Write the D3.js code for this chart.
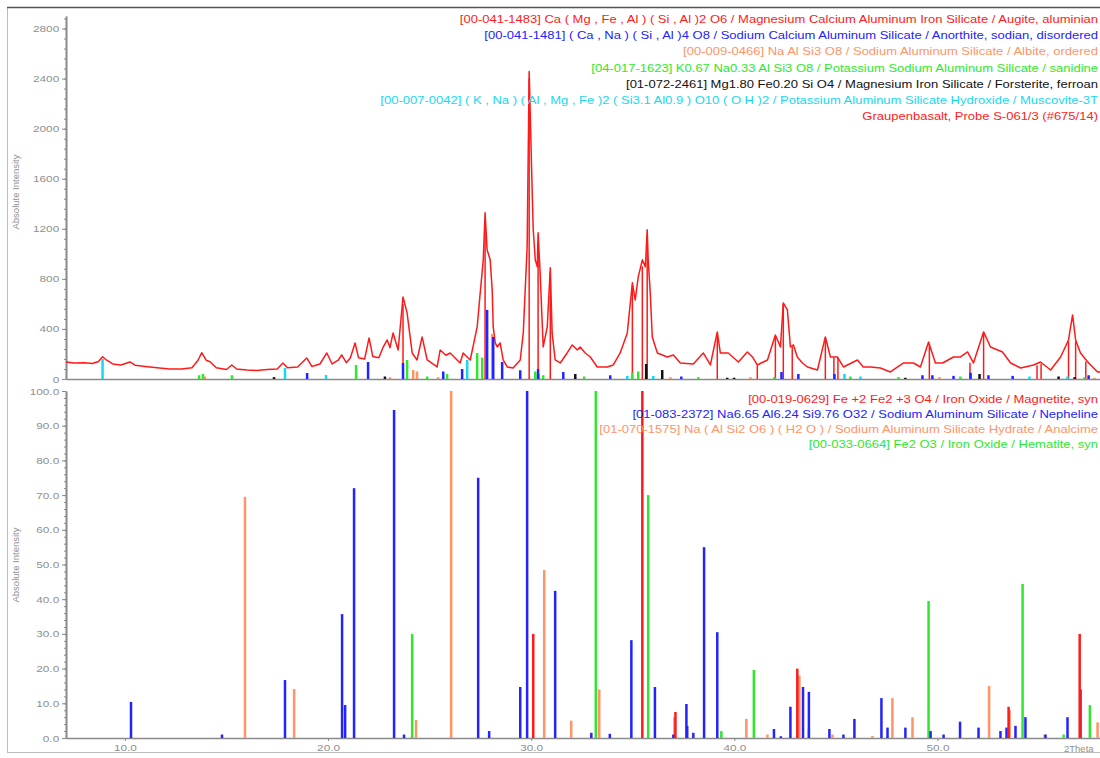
<!DOCTYPE html>
<html>
<head>
<meta charset="utf-8">
<script src="https://cdn.jsdelivr.net/npm/d3@7"></script>
<style>
  body { margin: 0; background: #fff; }
</style>
</head>
<body>
<div id="chart"></div>
<script>
// measured pattern (2Theta, counts)
const scanTheta = [7.10, 7.50, 8.00, 8.40, 8.70, 8.90, 9.10, 9.40, 9.80, 10.25, 10.50, 11.00, 11.70, 12.20, 12.80, 13.30, 13.60, 13.78, 14.00, 14.19, 14.50, 15.00, 15.26, 15.50, 16.00, 16.50, 17.00, 17.50, 17.78, 18.00, 18.50, 18.95, 19.20, 19.60, 19.94, 20.20, 20.50, 20.67, 20.90, 21.10, 21.33, 21.50, 21.80, 22.02, 22.20, 22.50, 22.70, 22.91, 23.05, 23.20, 23.45, 23.69, 23.89, 24.14, 24.38, 24.63, 24.88, 25.37, 25.52, 25.80, 26.01, 26.50, 26.65, 27.00, 27.34, 27.49, 27.64, 27.73, 27.83, 27.98, 28.08, 28.13, 28.23, 28.33, 28.47, 28.62, 28.82, 29.11, 29.46, 29.61, 29.80, 29.90, 30.05, 30.10, 30.20, 30.30, 30.34, 30.44, 30.59, 30.79, 30.94, 31.03, 31.18, 31.43, 31.77, 32.02, 32.27, 32.41, 32.66, 32.91, 33.25, 33.74, 34.04, 34.38, 34.73, 34.98, 35.12, 35.27, 35.47, 35.62, 35.71, 35.76, 35.86, 35.96, 36.21, 36.70, 37.00, 37.34, 37.98, 38.47, 38.82, 39.16, 39.31, 39.70, 40.20, 40.64, 40.89, 41.13, 41.63, 42.02, 42.27, 42.41, 42.61, 42.76, 42.91, 43.10, 43.35, 43.60, 44.09, 44.48, 44.73, 45.07, 45.37, 46.06, 46.35, 46.70, 47.19, 47.68, 48.33, 48.82, 49.16, 49.56, 49.90, 50.25, 50.79, 51.13, 51.48, 51.77, 52.27, 52.61, 53.20, 53.60, 54.09, 54.73, 55.07, 55.57, 56.06, 56.45, 56.65, 56.80, 57.04, 57.44, 57.88, 58.00];
const scanCounts = [136, 128, 130, 124, 140, 178, 150, 120, 112, 136, 110, 100, 88, 80, 80, 90, 150, 210, 150, 138, 90, 76, 112, 80, 72, 68, 76, 80, 128, 90, 96, 168, 100, 120, 208, 120, 150, 192, 130, 170, 288, 170, 160, 328, 180, 170, 250, 312, 250, 368, 232, 656, 528, 208, 152, 336, 152, 96, 232, 190, 208, 128, 208, 152, 416, 688, 952, 1328, 1032, 952, 712, 416, 288, 256, 288, 152, 96, 88, 152, 368, 1056, 2456, 1488, 1192, 952, 896, 1168, 848, 256, 416, 888, 368, 152, 128, 208, 272, 232, 256, 208, 176, 96, 96, 112, 208, 368, 768, 632, 816, 952, 896, 1192, 952, 688, 336, 208, 176, 192, 128, 120, 208, 112, 376, 208, 208, 136, 216, 176, 112, 152, 352, 256, 608, 552, 256, 272, 176, 128, 96, 72, 336, 176, 176, 96, 152, 96, 96, 88, 56, 128, 128, 96, 296, 128, 128, 176, 176, 216, 128, 376, 256, 216, 128, 88, 112, 136, 72, 176, 312, 512, 312, 208, 128, 56, 56];

// reference phases in the upper panel, [2Theta, counts]
const augite = [[23.69, 600], [27.73, 1250], [29.90, 2400], [30.34, 1100], [30.94, 850], [34.98, 740], [35.47, 900], [35.71, 1150], [39.16, 360], [41.13, 110], [42.02, 340], [42.41, 600], [42.85, 260], [44.48, 330], [44.90, 170], [45.10, 170], [49.60, 280], [51.60, 130], [52.27, 370], [54.90, 110], [55.10, 120], [56.45, 300], [56.80, 300], [57.30, 140]];
const anorthite = [[18.97, 48], [21.97, 136], [23.69, 128], [25.67, 60], [26.60, 80], [27.83, 552], [28.13, 336], [28.57, 136], [29.46, 70], [30.34, 80], [31.58, 56], [33.89, 30], [37.39, 20], [42.32, 56], [43.15, 40], [44.93, 40], [49.26, 30], [49.75, 30], [50.79, 25], [51.63, 50], [52.51, 30], [53.70, 25], [57.44, 30]];
const albite = [[13.94, 20], [23.05, 15], [24.19, 72], [24.38, 60], [25.42, 15], [28.08, 360], [36.85, 15], [40.79, 15], [50.10, 15], [57.73, 10]];
const sanidine = [[13.65, 30], [13.84, 40], [15.27, 30], [21.38, 112], [23.89, 152], [24.88, 20], [25.86, 40], [27.34, 208], [27.59, 170], [30.20, 60], [30.59, 30], [32.61, 20], [34.98, 50], [35.27, 60], [38.23, 15], [41.97, 15], [45.71, 20], [48.08, 15], [51.13, 20], [57.24, 15]];
const forsterite = [[17.34, 15], [22.80, 20], [30.34, 40], [32.17, 40], [35.66, 120], [36.45, 72], [39.65, 10], [39.99, 10], [48.42, 10], [52.07, 40], [55.96, 20], [56.75, 15]];
const muscovite = [[8.90, 160], [17.88, 88], [19.90, 32], [26.85, 152], [34.73, 25], [36.01, 25], [45.42, 40], [46.21, 20], [54.53, 20], [56.40, 20]];

// reference phases in the lower panel, [2Theta, relative intensity]
const magnetite = [[30.10, 30], [35.47, 100], [37.10, 7.5], [43.10, 20], [53.50, 9], [57.00, 30]];
const nepheline = [[10.30, 10.4], [14.78, 1], [17.88, 16.7], [20.69, 35.7], [20.84, 9.5], [21.28, 72], [23.25, 94.5], [23.74, 1], [27.39, 75], [27.93, 2], [29.46, 14.7], [29.80, 100], [31.18, 42.4], [32.96, 1.5], [33.87, 1.2], [34.93, 28.2], [36.09, 14.7], [37.00, 1], [37.64, 9.8], [37.68, 3.5], [37.98, 1.5], [38.51, 55], [39.16, 30.5], [41.95, 2.6], [42.29, 0.5], [42.76, 9], [43.38, 14.7], [43.67, 13.3], [44.68, 2.6], [45.37, 1], [45.91, 5.5], [47.24, 11.5], [47.54, 3], [48.42, 3], [49.66, 2], [50.30, 1], [51.11, 4.7], [52.02, 3], [53.10, 2], [53.40, 3], [53.84, 3.5], [54.33, 6], [55.32, 1], [56.40, 6], [57.04, 14]];
const analcime = [[15.91, 69.5], [18.33, 14.1], [24.33, 5.2], [26.06, 100], [30.64, 48.4], [31.97, 5], [33.35, 14], [37.05, 6], [40.59, 5.5], [41.63, 1], [43.20, 18], [44.83, 1], [46.80, 0.6], [47.78, 11.5], [48.77, 6], [52.54, 15], [53.55, 8], [55.27, 1], [57.88, 4.5]];
const hematite = [[24.14, 30], [33.18, 100], [35.76, 70], [39.36, 2], [40.96, 19.6], [43.67, 2.6], [49.56, 39.5], [54.19, 44.4], [56.21, 1], [57.50, 9.5]];

const topLabels = [
  "[00-041-1483] Ca ( Mg , Fe , Al ) ( Si , Al )2 O6 / Magnesium Calcium Aluminum Iron Silicate / Augite, aluminian",
  "[00-041-1481] ( Ca , Na ) ( Si , Al )4 O8 / Sodium Calcium Aluminum Silicate / Anorthite, sodian, disordered",
  "[00-009-0466] Na Al Si3 O8 / Sodium Aluminum Silicate / Albite, ordered",
  "[04-017-1623] K0.67 Na0.33 Al Si3 O8 / Potassium Sodium Aluminum Silicate / sanidine",
  "[01-072-2461] Mg1.80 Fe0.20 Si O4 / Magnesium Iron Silicate / Forsterite, ferroan",
  "[00-007-0042] ( K , Na ) ( Al , Mg , Fe )2 ( Si3.1 Al0.9 ) O10 ( O H )2 / Potassium Aluminum Silicate Hydroxide / Muscovite-3T",
  "Graupenbasalt, Probe S-061/3 (#675/14)"
];
const bottomLabels = [
  "[00-019-0629] Fe +2 Fe2 +3 O4 / Iron Oxide / Magnetite, syn",
  "[01-083-2372] Na6.65 Al6.24 Si9.76 O32 / Sodium Aluminum Silicate / Nepheline",
  "[01-070-1575] Na ( Al Si2 O6 ) ( H2 O ) / Sodium Aluminum Silicate Hydrate / Analcime",
  "[00-033-0664] Fe2 O3 / Iron Oxide / Hematite, syn"
];
const xTicks = [10, 20, 30, 40, 50];
const yTopTicks = [0, 400, 800, 1200, 1600, 2000, 2400, 2800];
const yBotTicks = [0, 10, 20, 30, 40, 50, 60, 70, 80, 90, 100];

const RED = "#ff1a1a", BLUE = "#2323ff", ORANGE = "#ff9466", GREEN = "#2ee82e", BLACK = "#111", CYAN = "#18d8f0";
const topColors = [RED, BLUE, ORANGE, GREEN, BLACK, CYAN, RED];
const botColors = [RED, BLUE, ORANGE, GREEN];
const SX = 1.24; // text looks stretched sideways in the picture

const svg = d3
  .select("#chart")
  .append("svg")
  .attr("width", 1100)
  .attr("height", 758)
  .style("font-family", "'Liberation Sans', Arial, sans-serif");

// frame
svg.append("rect").attr("x", 7.5).attr("y", 7.5).attr("width", 1100).attr("height", 745)
  .attr("fill", "none").attr("stroke", "#bdbdbd");
svg.append("line").attr("x1", 7).attr("x2", 1100).attr("y1", 7.5).attr("y2", 7.5)
  .attr("stroke", "#555").attr("stroke-width", 1.5);

const x = d3.scaleLinear().domain([7.1, 58.0]).range([66, 1100]);
const yTop = d3.scaleLinear().domain([0, 2900]).range([379, 16]);
const yBot = d3.scaleLinear().domain([0, 100]).range([738, 391]);

function styleAxis(g) {
  g.select(".domain").attr("stroke", "#8a8a8a").attr("stroke-width", 1.6);
  g.selectAll(".tick line").attr("stroke", "#8a8a8a");
  g.selectAll(".tick text").attr("fill", "#8f8f8f").attr("font-size", 9.5);
}

function leftAxis(scale, major, minorStep, fmt) {
  const [d0, d1] = scale.domain();
  const g = svg.append("g").attr("transform", "translate(66,0)");
  g.append("g")
    .call(d3.axisLeft(scale).tickValues(d3.range(d0, d1 + 1e-9, minorStep)).tickSize(2).tickSizeOuter(0).tickFormat(""))
    .call(styleAxis);
  g.append("g")
    .call(d3.axisLeft(scale).tickValues(major).tickSize(4).tickSizeOuter(0).tickFormat(fmt))
    .call(styleAxis)
    .call((a) => a.selectAll(".tick text").attr("x", -5.5).attr("transform", `scale(${SX},1)`));
}

leftAxis(yTop, yTopTicks, 80, d3.format("d"));
leftAxis(yBot, yBotTicks, 2, d3.format(".1f"));

// x axes
svg.append("g").attr("transform", "translate(0,379)")
  .call(d3.axisBottom(x).tickValues([]).tickSizeOuter(0))
  .call(styleAxis);
svg.append("g").attr("transform", "translate(0,738)")
  .call(d3.axisBottom(x).tickValues(xTicks).tickSize(3).tickSizeOuter(0).tickFormat(d3.format(".1f")))
  .call(styleAxis)
  .call((a) => a.selectAll(".tick text").attr("y", 6).attr("transform", `scale(${SX},1)`));

svg.append("text")
  .attr("x", 1064).attr("y", 752)
  .attr("font-size", 9.5).attr("fill", "#8f8f8f").text("2Theta");

// y labels
[[192], [565]].forEach(([cy]) => {
  svg.append("text")
    .attr("transform", `translate(19,${cy}) rotate(-90)`)
    .attr("text-anchor", "middle")
    .attr("font-size", 9.5).attr("fill", "#8f8f8f")
    .text("Absolute Intensity");
});

// measured pattern
const scan = scanTheta.map((t, i) => [t, scanCounts[i]]);
svg.append("path")
  .datum(scan)
  .attr("fill", "none")
  .attr("stroke", RED)
  .attr("stroke-width", 1.5)
  .attr("stroke-linejoin", "round")
  .attr("d", d3.line().x((d) => x(d[0])).y((d) => yTop(d[1])));

function sticks(data, y, color, w) {
  svg.append("g")
    .selectAll("line")
    .data(data)
    .join("line")
    .attr("x1", (d) => x(d[0]))
    .attr("x2", (d) => x(d[0]))
    .attr("y1", y(0))
    .attr("y2", (d) => y(d[1]))
    .attr("stroke", color)
    .attr("stroke-width", w);
}

sticks(augite, yTop, RED, 1.5);
sticks(muscovite, yTop, CYAN, 2.5);
sticks(forsterite, yTop, BLACK, 2.5);
sticks(sanidine, yTop, GREEN, 2.5);
sticks(albite, yTop, ORANGE, 2.5);
sticks(anorthite, yTop, BLUE, 2.5);

sticks(hematite, yBot, GREEN, 2.5);
sticks(analcime, yBot, ORANGE, 2.5);
sticks(nepheline, yBot, BLUE, 2.5);
sticks(magnetite, yBot, RED, 2.5);

// legends, right aligned
function legend(labels, colors, y0, step) {
  labels.forEach((t, i) => {
    svg.append("text")
      .attr("transform", `translate(1098,${y0 + i * step}) scale(${SX},1)`)
      .attr("text-anchor", "end")
      .attr("font-size", 10.5)
      .attr("fill", colors[i])
      .text(t);
  });
}
legend(topLabels, topColors, 23, 16.2);
legend(bottomLabels, botColors, 403, 15);
</script>
</body>
</html>
